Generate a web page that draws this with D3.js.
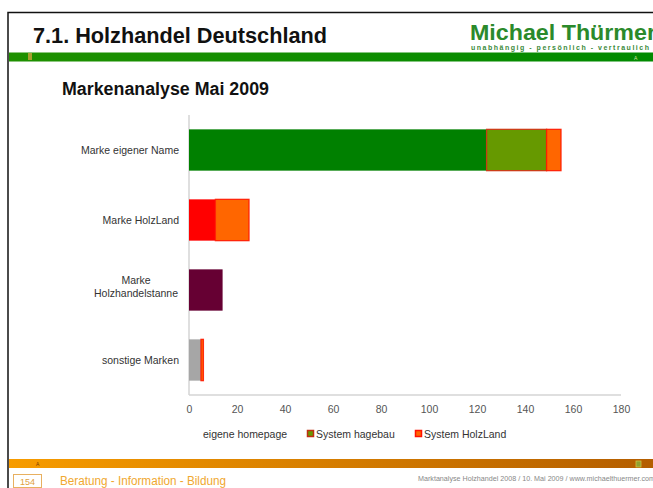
<!DOCTYPE html>
<html><head><meta charset="utf-8">
<script src="https://cdn.jsdelivr.net/npm/d3@7"></script>
<style>body{margin:0;background:#fff}svg{display:block}</style>
</head><body>
<script>
const categories = ["Marke eigener Name", "Marke HolzLand", "Marke Holzhandelstanne", "sonstige Marken"];
const categoryLines = [["Marke eigener  Name"], ["Marke HolzLand"], ["Marke", "Holzhandelstanne"], ["sonstige  Marken"]];
const seriesNames = ["eigene homepage", "System hagebau", "System HolzLand"];
const eigeneHomepage = [124, 11, 14, 5];
const systemHagebau = [25, 0, 0, 0];
const systemHolzLand = [6, 14, 0, 1];
const xTicks = [0, 20, 40, 60, 80, 100, 120, 140, 160, 180];

const W = 653, H = 488;
const svg = d3.select("body").append("svg").attr("width", W).attr("height", H);
const defs = svg.append("defs");
const g1 = defs.append("linearGradient").attr("id", "gbar");
g1.append("stop").attr("offset", "0%").attr("stop-color", "#1f9000");
g1.append("stop").attr("offset", "100%").attr("stop-color", "#008a00");
const g2 = defs.append("linearGradient").attr("id", "obar");
g2.append("stop").attr("offset", "0%").attr("stop-color", "#f79c00");
g2.append("stop").attr("offset", "100%").attr("stop-color", "#b45e00");

const FONT = "Liberation Sans, Arial, sans-serif";

// slide frame
svg.append("path").attr("d", "M8,488 V12.5 H653").attr("fill", "none").attr("stroke", "#111").attr("stroke-width", 1.5);

// header
svg.append("text").attr("x", 33).attr("y", 43).text("7.1. Holzhandel Deutschland")
  .attr("font-family", FONT).attr("font-weight", "bold").attr("font-size", 21.5).attr("fill", "#111")
  .attr("textLength", 294).attr("lengthAdjust", "spacingAndGlyphs");
svg.append("text").attr("x", 470).attr("y", 40).text("Michael Thürmer")
  .attr("font-family", FONT).attr("font-weight", "bold").attr("font-size", 22.5).attr("fill", "#2b8a2b")
  .attr("textLength", 186).attr("lengthAdjust", "spacingAndGlyphs");
svg.append("text").attr("x", 471).attr("y", 50).text("unabhängig - persönlich - vertraulich")
  .attr("font-family", FONT).attr("font-weight", "bold").attr("font-size", 7).attr("fill", "#3a8a3a")
  .attr("textLength", 178).attr("lengthAdjust", "spacing");
svg.append("rect").attr("x", 9).attr("y", 52.5).attr("width", W - 9).attr("height", 9).attr("fill", "url(#gbar)");
svg.append("rect").attr("x", 28).attr("y", 53).attr("width", 4).attr("height", 7).attr("fill", "#a8a030");
svg.append("text").attr("x", 634).attr("y", 60).text("A").attr("font-size", 5).attr("font-family", FONT).attr("fill", "#cfe0a0");

svg.append("text").attr("x", 62).attr("y", 95).text("Markenanalyse Mai 2009")
  .attr("font-family", FONT).attr("font-weight", "bold").attr("font-size", 17.5).attr("fill", "#111")
  .attr("textLength", 207).attr("lengthAdjust", "spacingAndGlyphs");

// chart
const x = d3.scaleLinear().domain([0, 180]).range([189, 621]);
const y = d3.scaleBand().domain(categories).range([115, 395]).paddingInner(0.41).paddingOuter(0.205);

const axisColor = "#d4d4d4";
svg.append("line").attr("x1", x(0)).attr("x2", x(0)).attr("y1", 115).attr("y2", 395).attr("stroke", axisColor).attr("stroke-width", 1.5);
svg.append("line").attr("x1", x(0)).attr("x2", x(180)).attr("y1", 395).attr("y2", 395).attr("stroke", axisColor).attr("stroke-width", 1.5);

const xAxis = svg.append("g").attr("transform", "translate(0,395)")
  .call(d3.axisBottom(x).tickValues(xTicks).tickSize(0).tickPadding(11));
xAxis.select(".domain").remove();
xAxis.selectAll("text").attr("font-family", FONT).attr("font-size", 10.5).attr("fill", "#555");

const pointColors = ["#008000", "#ff0000", "#660033", "#a6a6a6"];
const stackData = categories.map((c, i) => ({cat: c, e: eigeneHomepage[i], h: systemHagebau[i], l: systemHolzLand[i], i}));
const stack = d3.stack().keys(["e", "h", "l"])(stackData);
const fills = {e: d => pointColors[d.data.i], h: () => "#669900", l: () => "#ff6600"};
const strokes = {e: () => "none", h: () => "#d03010", l: () => "#ff1a00"};

stack.forEach(layer => {
  svg.append("g").selectAll("rect").data(layer.filter(d => d[1] > d[0])).join("rect")
    .attr("x", d => x(d[0]))
    .attr("y", d => y(d.data.cat))
    .attr("width", d => x(d[1]) - x(d[0]))
    .attr("height", y.bandwidth())
    .attr("fill", fills[layer.key])
    .attr("stroke", strokes[layer.key])
    .attr("stroke-width", 1.3)
    .attr("stroke-opacity", 0.9);
});

// category labels
categories.forEach((c, i) => {
  const lines = categoryLines[i];
  const cy = y(c) + y.bandwidth() / 2;
  const t = svg.append("text").attr("font-family", FONT).attr("font-size", 10.5).attr("fill", "#333");
  if (lines.length === 1) {
    t.attr("x", 179).attr("y", cy + 3.5).attr("text-anchor", "end").text(lines[0]);
  } else {
    lines.forEach((ln, k) => {
      t.append("tspan").attr("x", 136).attr("text-anchor", "middle").attr("y", cy - 6 + k * 13).text(ln);
    });
  }
});

// legend
const legend = svg.append("g").attr("font-family", FONT).attr("font-size", 10.5).attr("fill", "#333");
const legX = [203, 307, 415];
const legSw = [null, {f: "#669900", s: "#c03010"}, {f: "#ff6600", s: "#ff1000"}];
seriesNames.forEach((n, i) => {
  let tx = legX[i];
  if (legSw[i]) {
    legend.append("rect").attr("x", legX[i] + 0.5).attr("y", 430.5).attr("width", 6).attr("height", 6)
      .attr("fill", legSw[i].f).attr("stroke", legSw[i].s).attr("stroke-width", 1.5);
    tx = legX[i] + 9;
  }
  legend.append("text").attr("x", tx).attr("y", 437.5).text(n);
});

// footer
svg.append("rect").attr("x", 9).attr("y", 459).attr("width", W - 9).attr("height", 9).attr("fill", "url(#obar)");
svg.append("text").attr("x", 36).attr("y", 466).text("A").attr("font-size", 5).attr("font-family", FONT).attr("fill", "#7a3a00");
svg.append("rect").attr("x", 636).attr("y", 461).attr("width", 5).attr("height", 6).attr("fill", "#90a030").attr("stroke", "#d0c040").attr("stroke-width", 0.8);
svg.append("rect").attr("x", 13.5).attr("y", 474.5).attr("width", 28).attr("height", 13).attr("fill", "#fff").attr("stroke", "#e8b060").attr("stroke-width", 1);
svg.append("text").attr("x", 27.5).attr("y", 484.5).attr("text-anchor", "middle").text("154")
  .attr("font-family", FONT).attr("font-size", 9).attr("fill", "#e0a040");
svg.append("text").attr("x", 60).attr("y", 485).text("Beratung - Information - Bildung")
  .attr("font-family", FONT).attr("font-size", 12).attr("fill", "#f0a830")
  .attr("textLength", 166).attr("lengthAdjust", "spacingAndGlyphs");
svg.append("text").attr("x", 418).attr("y", 481).text("Marktanalyse Holzhandel  2008 / 10. Mai 2009 / www.michaelthuermer.com")
  .attr("font-family", FONT).attr("font-size", 6.3).attr("fill", "#888")
  .attr("textLength", 237).attr("lengthAdjust", "spacingAndGlyphs");
</script>
</body></html>
